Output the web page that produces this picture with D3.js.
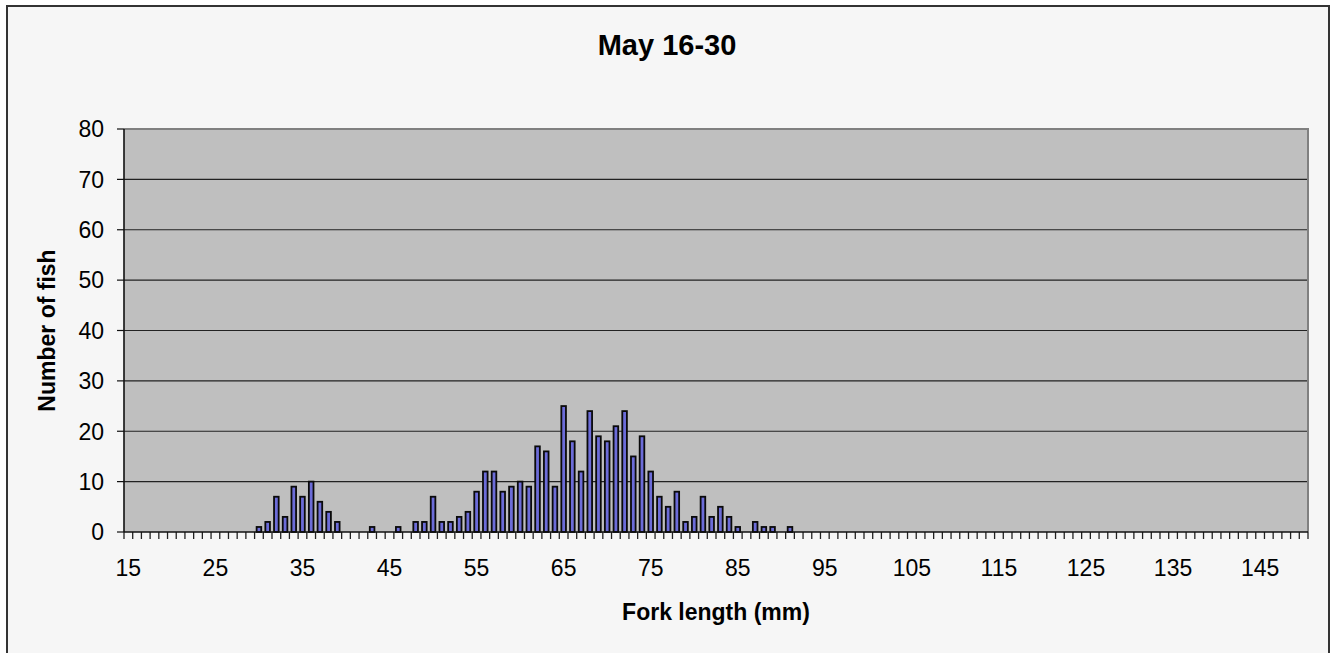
<!DOCTYPE html>
<html>
<head>
<meta charset="utf-8">
<script src="https://cdn.jsdelivr.net/npm/d3@7"></script>
<style>
  html, body { margin: 0; padding: 0; background: #ffffff; }
  svg { display: block; }
  text { font-family: "Liberation Sans", Arial, sans-serif; fill: #000; }
</style>
</head>
<body>
<script>
// Fork-length bins (mm) shown on the category axis
const lengthBins = d3.range(15, 151);
// Bins that caught fish, and how many
const caughtLengths = [30, 31, 32, 33, 34, 35, 36, 37, 38, 39, 43, 46, 48, 49, 50, 51, 52, 53, 54, 55,
  56, 57, 58, 59, 60, 61, 62, 63, 64, 65, 66, 67, 68, 69, 70, 71, 72, 73, 74, 75, 76, 77, 78, 79,
  80, 81, 82, 83, 84, 85, 87, 88, 89, 91];
const fishCounts = [1, 2, 7, 3, 9, 7, 10, 6, 4, 2, 1, 1, 2, 2, 7, 2, 2, 3, 4, 8,
  12, 12, 8, 9, 10, 9, 17, 16, 9, 25, 18, 12, 24, 19, 18, 21, 24, 15, 19, 12, 7, 5, 8, 2,
  3, 7, 3, 5, 3, 1, 2, 1, 1, 1];
const xTickLabels = [15, 25, 35, 45, 55, 65, 75, 85, 95, 105, 115, 125, 135, 145];
const yTickValues = [0, 10, 20, 30, 40, 50, 60, 70, 80];

const W = 1333, H = 653;
const plot = { left: 124, right: 1308, top: 129, bottom: 532 };

const svg = d3.select("body").append("svg").attr("width", W).attr("height", H);

// chart area with frame
svg.append("rect").attr("x", 7).attr("y", 6).attr("width", 1322).attr("height", 660)
  .attr("fill", "#f6f6f6").attr("stroke", "#333").attr("stroke-width", 2);

const x = d3.scaleBand().domain(lengthBins).range([plot.left, plot.right]).padding(0);
const xBar = d3.scaleBand().domain(lengthBins).range([plot.left, plot.right])
  .paddingInner(0.47).paddingOuter(0.235);
const y = d3.scaleLinear().domain([0, 80]).range([plot.bottom, plot.top]);

// plot area
svg.append("rect").attr("x", plot.left).attr("y", plot.top)
  .attr("width", plot.right - plot.left).attr("height", plot.bottom - plot.top)
  .attr("fill", "#bfbfbf");

// gridlines
svg.append("g").selectAll("line").data(yTickValues.filter(v => v > 0 && v < 80)).join("line")
  .attr("x1", plot.left).attr("x2", plot.right)
  .attr("y1", d => y(d)).attr("y2", d => y(d))
  .attr("stroke", "#222").attr("stroke-width", 1.2);

// top and right border of the plot
svg.append("path")
  .attr("d", `M${plot.left},${y(80)}H${plot.right}V${plot.bottom}`)
  .attr("fill", "none").attr("stroke", "#808080").attr("stroke-width", 2);

// bars
const counts = caughtLengths.map((len, i) => ({ len, n: fishCounts[i] }));
svg.append("g").selectAll("rect").data(counts).join("rect")
  .attr("x", d => xBar(d.len))
  .attr("width", xBar.bandwidth())
  .attr("y", d => y(d.n))
  .attr("height", d => y(0) - y(d.n))
  .attr("fill", "#6c6cd8")
  .attr("stroke", "#0a0a0a")
  .attr("stroke-width", 1.8);

// x axis: ticks on every bin boundary
const xBoundaries = lengthBins.map(v => x(v)).concat([x(lengthBins[lengthBins.length - 1]) + x.bandwidth()]);
const xAxisG = svg.append("g");
xAxisG.selectAll("line.tick").data(xBoundaries).join("line")
  .attr("class", "tick")
  .attr("x1", d => d).attr("x2", d => d)
  .attr("y1", plot.bottom).attr("y2", plot.bottom + 7)
  .attr("stroke", "#222").attr("stroke-width", 1.3);
xAxisG.append("line").attr("x1", plot.left).attr("x2", plot.right)
  .attr("y1", plot.bottom).attr("y2", plot.bottom)
  .attr("stroke", "#111").attr("stroke-width", 1.6);
xAxisG.selectAll("text").data(xTickLabels).join("text")
  .attr("x", d => x(d) + x.bandwidth() / 2)
  .attr("y", 576)
  .attr("text-anchor", "middle")
  .style("font-size", "23px")
  .text(d => d);

// y axis
const yAxisG = svg.append("g");
yAxisG.append("line").attr("x1", plot.left).attr("x2", plot.left)
  .attr("y1", plot.top).attr("y2", plot.bottom)
  .attr("stroke", "#111").attr("stroke-width", 1.6);
yAxisG.selectAll("line.tick").data(yTickValues).join("line")
  .attr("class", "tick")
  .attr("x1", plot.left - 7).attr("x2", plot.left)
  .attr("y1", d => y(d)).attr("y2", d => y(d))
  .attr("stroke", "#111").attr("stroke-width", 1.2);
yAxisG.selectAll("text").data(yTickValues).join("text")
  .attr("x", 104)
  .attr("y", d => y(d))
  .attr("dy", "0.36em")
  .attr("text-anchor", "end")
  .style("font-size", "23px")
  .text(d => d);

// titles
svg.append("text").attr("x", 667).attr("y", 55).attr("text-anchor", "middle")
  .style("font-size", "29px").style("font-weight", "bold").text("May 16-30");
svg.append("text").attr("x", (plot.left + plot.right) / 2).attr("y", 620).attr("text-anchor", "middle")
  .style("font-size", "23px").style("font-weight", "bold").text("Fork length (mm)");
svg.append("text")
  .attr("transform", `translate(55,${(plot.top + plot.bottom) / 2}) rotate(-90)`)
  .attr("text-anchor", "middle")
  .style("font-size", "23px").style("font-weight", "bold").text("Number of fish");
</script>
</body>
</html>
